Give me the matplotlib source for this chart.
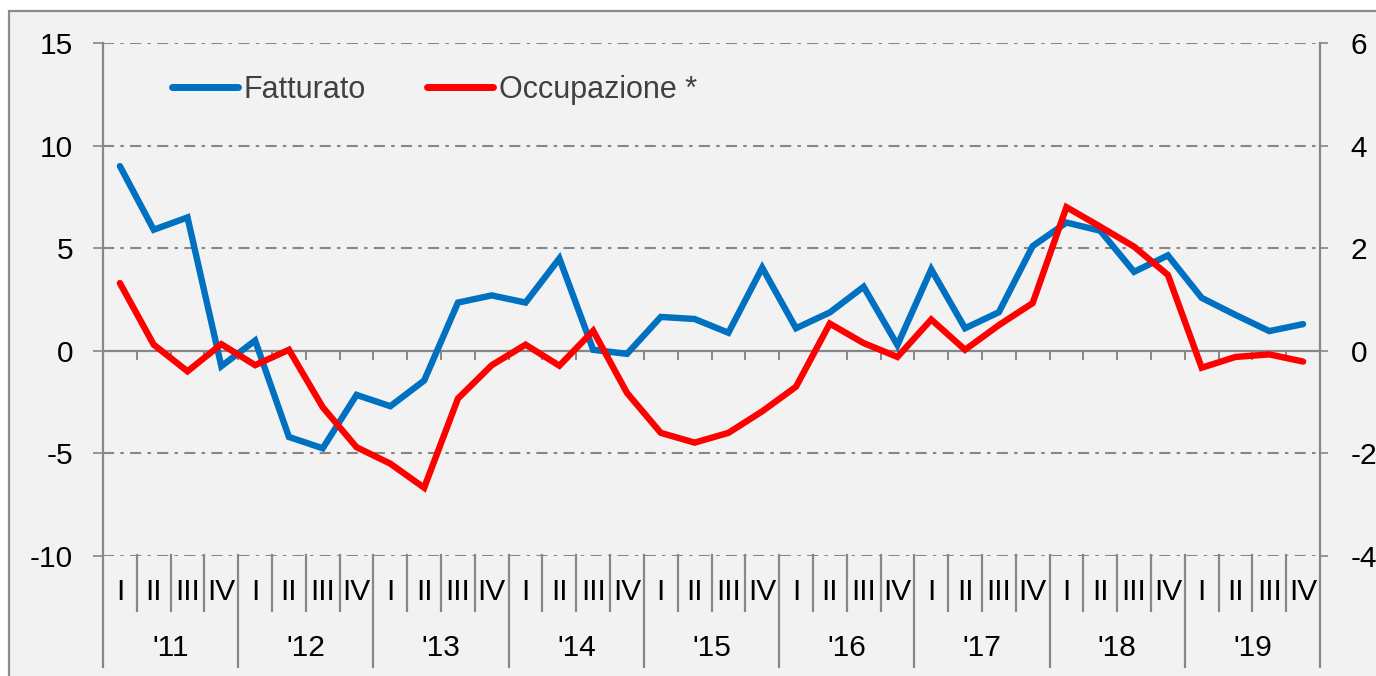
import matplotlib
matplotlib.use("Agg")
import matplotlib.pyplot as plt
import numpy as np
from matplotlib.patches import Rectangle
from matplotlib.lines import Line2D
import matplotlib.transforms as mtransforms

plt.rcParams['font.family'] = ['Liberation Sans', 'DejaVu Sans']
plt.rcParams['lines.scale_dashes'] = False

years = ["'11", "'12", "'13", "'14", "'15", "'16", "'17", "'18", "'19"]
quarters = ["I", "II", "III", "IV"]

fatturato = [9.0, 5.9, 6.5, -0.75, 0.5, -4.2, -4.75, -2.15, -2.7, -1.45,
             2.35, 2.7, 2.35, 4.5, 0.05, -0.15, 1.65, 1.55, 0.88, 4.05,
             1.1, 1.87, 3.12, 0.28, 3.97, 1.1, 1.88, 5.1, 6.25, 5.85,
             3.85, 4.65, 2.58, 1.75, 0.96, 1.3]
occupazione = [1.32, 0.12, -0.4, 0.13, -0.28, 0.02, -1.1, -1.88, -2.2, -2.67,
               -0.93, -0.28, 0.12, -0.29, 0.39, -0.82, -1.6, -1.79, -1.6, -1.18,
               -0.7, 0.53, 0.15, -0.12, 0.61, 0.02, 0.5, 0.93, 2.8, 2.42,
               2.03, 1.48, -0.33, -0.12, -0.07, -0.21]

W, H = 1376, 676
fig = plt.figure(figsize=(W / 100, H / 100), dpi=100, facecolor='white')

# outer frame
fig.patches.append(Rectangle((9 / W, -0.05), 1.2, (H - 11) / H + 0.05,
                             transform=fig.transFigure, facecolor='#f2f2f2',
                             edgecolor='#8c8c8c', lw=1.6, zorder=-10))

ax = fig.add_axes([103 / W, (H - 556) / H, (1320 - 103) / W, (556 - 43) / H])
ax.set_facecolor('none')
ax2 = ax.twinx()
ax2.set_facecolor('none')

grey = '#878787'
x = np.arange(len(fatturato))

ax.set_xlim(-0.5, len(fatturato) - 0.5)
ax.set_ylim(-10, 15)
ax2.set_ylim(-4, 6)

# gridlines (dash-dot)
for v in [15, 10, 5, -5, -10]:
    ax.axhline(v, color=grey, lw=1.5, dashes=(8, 4.5, 2.5, 4.5), zorder=1)
ax.axhline(0, color=grey, lw=1.6, zorder=1)

for a in (ax, ax2):
    for s in a.spines.values():
        s.set_visible(False)

ax.set_xticks([])
ax.set_yticks([-10, -5, 0, 5, 10, 15])
ax.set_yticklabels(['-10', '-5', '0', '5', '10', '15'])
ax.tick_params(axis='y', length=7.5, width=1.2, color=grey, pad=14, labelsize=21.5)
ax2.set_yticks([-4, -2, 0, 2, 4, 6])
ax2.set_yticklabels(['-4', '-2', '0', '2', '4', '6'])
ax2.tick_params(axis='y', length=6, width=1.2, color=grey, pad=16, labelsize=21.5)

trans = mtransforms.blended_transform_factory(ax.transData, ax.transAxes)
ax_h = 556 - 43
# spines extended below
for xv in [-0.5, len(fatturato) - 0.5]:
    ax.plot([xv, xv], [1.0, -111 / ax_h], transform=trans, color=grey, lw=1.6,
            clip_on=False, zorder=2)

# zero-line ticks and category separators
for k in range(1, len(fatturato)):
    xb = k - 0.5
    ax.plot([xb, xb], [0, -0.42], color=grey, lw=1.4, clip_on=False, zorder=1)
    if k % 4 == 0:
        ax.plot([xb, xb], [1 / ax_h, -111 / ax_h], transform=trans, color=grey,
                lw=1.6, clip_on=False, zorder=1)
    else:
        ax.plot([xb, xb], [1 / ax_h, -55 / ax_h], transform=trans, color=grey,
                lw=1.6, clip_on=False, zorder=1)

# category labels
for i in range(len(fatturato)):
    ax.text(i, -36 / ax_h, quarters[i % 4], transform=trans, ha='center',
            va='center', fontsize=21.5, color='black')
for j, yl in enumerate(years):
    ax.text(4 * j + 1.5, -92 / ax_h, yl, transform=trans, ha='center',
            va='center', fontsize=21.5, color='black')

ax.plot(x, fatturato, color='#0070c0', lw=4.6, solid_capstyle='round',
        solid_joinstyle='miter', zorder=4)
ax2.plot(x, occupazione, color='#ff0000', lw=4.6, solid_capstyle='round',
         solid_joinstyle='miter', zorder=5)

handles = [Line2D([], [], color='#0070c0', lw=5, solid_capstyle='round'),
           Line2D([], [], color='#ff0000', lw=5, solid_capstyle='round')]
leg = fig.legend(handles, ['Fatturato', 'Occupazione *'], loc='center left',
                 bbox_to_anchor=(172 / W, 1 - 90 / H), bbox_transform=fig.transFigure,
                 ncol=2, frameon=False, fontsize=22, handlelength=2.15,
                 handletextpad=0.2, columnspacing=2.0, borderpad=0, borderaxespad=0)
for t in leg.get_texts():
    t.set_color('#404040')

fig.savefig('out.png', dpi=100, facecolor='white')
